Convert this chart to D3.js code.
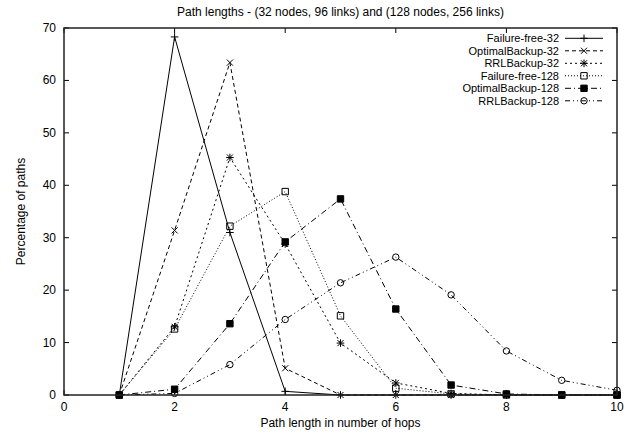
<!DOCTYPE html>
<html>
<head>
<meta charset="utf-8">
<script src="https://cdn.jsdelivr.net/npm/d3@7"></script>
<style>
  body { margin: 0; background: #fff; }
  svg text { font-family: "Liberation Sans", Arial, sans-serif; fill: #000; }
</style>
</head>
<body>
<div id="chart"></div>
<script>
// hop counts
var hops = [1, 2, 3, 4, 5, 6, 7, 8, 9, 10];

// percentage of paths per series
var failureFree32   = [0, 68.3, 31.0, 0.7, 0, 0, 0, 0, 0, 0];
var optimalBackup32 = [0, 31.4, 63.4, 5.1, 0, 0, 0, 0, 0, 0];
var rrlBackup32     = [0, 13.0, 45.3, 28.8, 9.9, 2.3, 0.3, 0, 0, 0];
var failureFree128  = [0, 12.6, 32.2, 38.8, 15.1, 1.3, 0.2, 0, 0, 0];
var optimalBackup128 = [0, 1.1, 13.6, 29.2, 37.4, 16.4, 1.9, 0.2, 0, 0];
var rrlBackup128    = [0, 0.3, 5.8, 14.4, 21.4, 26.3, 19.1, 8.4, 2.8, 0.9];

var seriesNames = ["Failure-free-32", "OptimalBackup-32", "RRLBackup-32",
                   "Failure-free-128", "OptimalBackup-128", "RRLBackup-128"];
var seriesValues = [failureFree32, optimalBackup32, rrlBackup32,
                    failureFree128, optimalBackup128, rrlBackup128];

var xTicks = [0, 2, 4, 6, 8, 10];
var yTicks = [0, 10, 20, 30, 40, 50, 60, 70];

// gnuplot-like line types and point types
var dashes  = [null, "4,3", "2,3", "1,2", "6,3,1,3", "5,3,1,3,1,3"];
var markers = ["plus", "cross", "star", "box", "boxFilled", "circle"];

var width = 637, height = 437;
var margin = {left: 64, right: 20, top: 28, bottom: 42};
var fontSize = 12;

var svg = d3.select("#chart").append("svg")
    .attr("width", width)
    .attr("height", height);

var x = d3.scaleLinear().domain([0, 10]).range([margin.left, width - margin.right]);
var y = d3.scaleLinear().domain([0, 70]).range([height - margin.bottom, margin.top]);

// marker path for a given type at (cx, cy)
function markerPath(type, cx, cy) {
    var s = 3.8;
    var p = d3.path();
    if (type == "plus" || type == "star") {
        p.moveTo(cx - s, cy); p.lineTo(cx + s, cy);
        p.moveTo(cx, cy - s); p.lineTo(cx, cy + s);
    }
    if (type == "cross" || type == "star") {
        var t = s * 0.8;
        p.moveTo(cx - t, cy - t); p.lineTo(cx + t, cy + t);
        p.moveTo(cx - t, cy + t); p.lineTo(cx + t, cy - t);
    }
    if (type == "box" || type == "boxFilled") {
        var b = 3.2;
        p.rect(cx - b, cy - b, 2 * b, 2 * b);
    }
    if (type == "circle") {
        p.moveTo(cx + 3.2, cy);
        p.arc(cx, cy, 3.2, 0, 2 * Math.PI);
    }
    return p.toString();
}

function drawMarker(g, type, cx, cy) {
    g.append("path")
        .attr("d", markerPath(type, cx, cy))
        .attr("fill", type == "boxFilled" ? "#000" : "none")
        .attr("stroke", "#000")
        .attr("stroke-width", 1);
}

// ticks (inward, mirrored)
var tickG = svg.append("g").attr("stroke", "#000").attr("stroke-width", 1);
xTicks.forEach(function (t) {
    tickG.append("line").attr("x1", x(t)).attr("x2", x(t))
        .attr("y1", y(0)).attr("y2", y(0) - 5);
    tickG.append("line").attr("x1", x(t)).attr("x2", x(t))
        .attr("y1", y(70)).attr("y2", y(70) + 5);
    svg.append("text")
        .attr("x", x(t)).attr("y", y(0) + 16)
        .attr("text-anchor", "middle")
        .attr("font-size", fontSize)
        .text(t);
});
yTicks.forEach(function (t) {
    tickG.append("line").attr("x1", x(0)).attr("x2", x(0) + 5)
        .attr("y1", y(t)).attr("y2", y(t));
    tickG.append("line").attr("x1", x(10)).attr("x2", x(10) - 5)
        .attr("y1", y(t)).attr("y2", y(t));
    svg.append("text")
        .attr("x", x(0) - 8).attr("y", y(t) + 4)
        .attr("text-anchor", "end")
        .attr("font-size", fontSize)
        .text(t);
});

// series lines and points
var line = d3.line()
    .x(function (d) { return x(d[0]); })
    .y(function (d) { return y(d[1]); });

seriesValues.forEach(function (vals, i) {
    var pts = hops.map(function (h, j) { return [h, vals[j]]; });
    var g = svg.append("g");
    g.append("path")
        .attr("d", line(pts))
        .attr("fill", "none")
        .attr("stroke", "#000")
        .attr("stroke-width", 1)
        .attr("stroke-dasharray", dashes[i]);
    pts.forEach(function (p) {
        drawMarker(g, markers[i], x(p[0]), y(p[1]));
    });
});

// frame
svg.append("rect")
    .attr("x", x(0)).attr("y", y(70))
    .attr("width", x(10) - x(0)).attr("height", y(0) - y(70))
    .attr("fill", "none")
    .attr("stroke", "#222")
    .attr("stroke-width", 1.5);

// legend
var legend = svg.append("g");
seriesNames.forEach(function (name, i) {
    var ly = 38.3 + i * 12.5;
    legend.append("text")
        .attr("x", 559).attr("y", ly + 4)
        .attr("text-anchor", "end")
        .attr("font-size", 11)
        .text(name);
    legend.append("line")
        .attr("x1", 565).attr("x2", 603)
        .attr("y1", ly).attr("y2", ly)
        .attr("stroke", "#000")
        .attr("stroke-width", 1)
        .attr("stroke-dasharray", dashes[i]);
    drawMarker(legend, markers[i], 584, ly);
});

// title and axis labels
svg.append("text")
    .attr("x", (x(0) + x(10)) / 2).attr("y", 16)
    .attr("text-anchor", "middle")
    .attr("font-size", fontSize)
    .text("Path lengths - (32 nodes, 96 links) and (128 nodes, 256 links)");

svg.append("text")
    .attr("x", (x(0) + x(10)) / 2).attr("y", 427)
    .attr("text-anchor", "middle")
    .attr("font-size", fontSize)
    .text("Path length in number of hops");

svg.append("text")
    .attr("transform", "translate(25," + ((y(0) + y(70)) / 2) + ") rotate(-90)")
    .attr("text-anchor", "middle")
    .attr("font-size", fontSize)
    .text("Percentage of paths");
</script>
</body>
</html>
